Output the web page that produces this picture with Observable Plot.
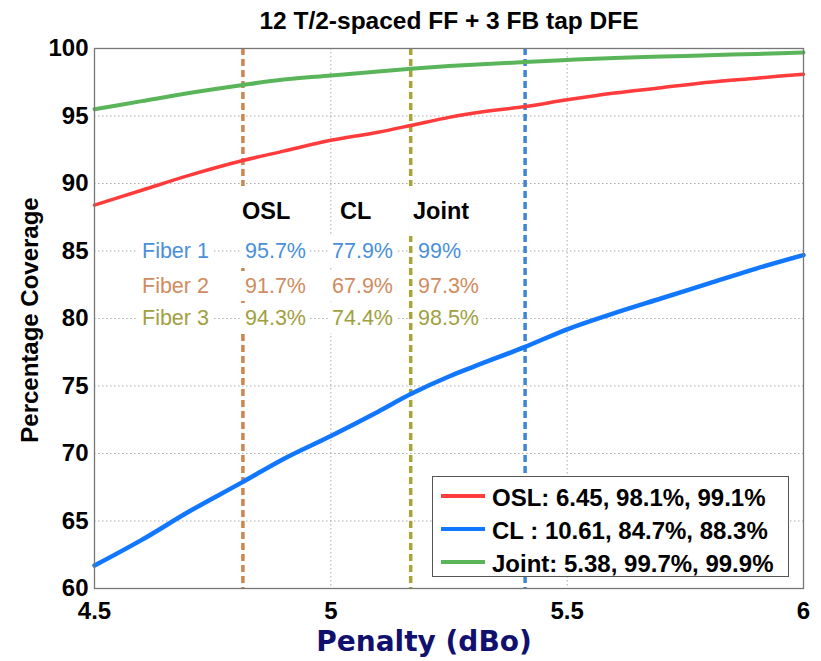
<!DOCTYPE html>
<html><head><meta charset="utf-8">
<script src="https://cdn.jsdelivr.net/npm/d3@7"></script>
<script src="https://cdn.jsdelivr.net/npm/@observablehq/plot@0.6"></script>
<style>
body{margin:0;background:#fff;}
#wrap{position:relative;width:821px;height:661px;font-family:"Liberation Sans",Arial,sans-serif;overflow:hidden;}
#wrap svg{position:absolute;left:0;top:0;}
.abs{position:absolute;white-space:nowrap;}
#title{left:449px;top:9px;transform:translateX(-50%);font-size:24.5px;font-weight:bold;line-height:1;color:#000;}
#ylab{left:30px;top:320px;transform:translate(-50%,-50%) rotate(-90deg);font-size:24px;font-weight:bold;line-height:1;color:#000;}
#xlab{left:424px;top:628px;transform:translateX(-50%);font-family:"DejaVu Sans",sans-serif;font-size:28px;font-weight:bold;line-height:1;color:#10106e;}
.cell{position:absolute;white-space:nowrap;background:#fff;font-size:21.5px;line-height:30px;height:30px;padding:0 4px;}
.head{position:absolute;white-space:nowrap;background:#fff;font-size:23.5px;font-weight:bold;line-height:50px;height:50px;padding:0 4px;color:#000;}
#legend{position:absolute;left:432px;top:476px;width:355px;height:99px;border:1.5px solid #555;background:#fff;}
.lrow{position:absolute;left:59px;font-size:24px;font-weight:bold;line-height:33px;height:33px;white-space:nowrap;color:#000;}
.lsw{position:absolute;left:8px;width:44px;height:4px;}
</style>
</head><body>
<div id="wrap"></div>
<script>
// ---- data ----
const penalty = [4.5, 4.6, 4.7, 4.814, 4.9, 5.0, 5.1, 5.169, 5.25, 5.3, 5.411, 5.5, 5.6, 5.7, 5.8, 5.9, 6.0];
const oslCoverage   = [88.4, 89.5, 90.6, 91.7, 92.4, 93.2, 93.8, 94.3, 94.9, 95.2, 95.7, 96.2, 96.7, 97.1, 97.5, 97.8, 98.1];
const clCoverage    = [61.7, 63.6, 65.7, 67.9, 69.6, 71.3, 73.1, 74.4, 75.7, 76.4, 77.9, 79.2, 80.4, 81.5, 82.6, 83.7, 84.7];
const jointCoverage = [95.5, 96.1, 96.7, 97.3, 97.7, 98.0, 98.3, 98.5, 98.7, 98.8, 99.0, 99.15, 99.3, 99.4, 99.5, 99.6, 99.7];
const fiberPenalty = [5.411, 4.814, 5.169]; // Fiber 1, 2, 3 operating points
const xTicks = [4.5, 5, 5.5, 6];
const yTicks = [60, 65, 70, 75, 80, 85, 90, 95, 100];
const seriesNames = ["OSL", "CL", "Joint"];
const fiberNames = ["Fiber 1", "Fiber 2", "Fiber 3"];
const tableValues = [[95.7, 77.9, 99], [91.7, 67.9, 97.3], [94.3, 74.4, 98.5]];
const legendLabels = ["OSL: 6.45, 98.1%, 99.1%", "CL : 10.61, 84.7%, 88.3%", "Joint: 5.38, 99.7%, 99.9%"];
const titleText = "12 T/2-spaced FF + 3 FB tap DFE";

// ---- styles ----
const seriesColors = ["#ff3b3b", "#1177ff", "#5ab55a"];
const seriesWidths = [3.5, 4.5, 4];
const fiberColors = ["#3d85d6", "#d2844e", "#a9a43a"];
const fiberTextColors = ["#4a90d9", "#d08c60", "#a0a040"];

const seriesValues = [oslCoverage, clCoverage, jointCoverage];
const lineMarks = seriesValues.map((vals, i) =>
  Plot.line(penalty.map((p, j) => ({x: p, y: vals[j]})), {
    x: "x", y: "y", stroke: seriesColors[i], strokeWidth: seriesWidths[i], curve: "monotone-x"
  })
);
const ruleMarks = fiberPenalty.map((p, i) =>
  Plot.ruleX([p], {stroke: fiberColors[i], strokeWidth: 3.5, strokeDasharray: "7,4"})
);

const chart = Plot.plot({
  width: 821, height: 661,
  marginLeft: 94, marginRight: 18, marginTop: 48, marginBottom: 73,
  x: {domain: [4.5, 6]},
  y: {domain: [60, 100]},
  style: {fontFamily: "'Liberation Sans', Arial, sans-serif", fontSize: "24px", fontWeight: "bold", color: "#000", background: "transparent"},
  marks: [
    Plot.gridX(xTicks.slice(1, -1), {stroke: "#aaa", strokeOpacity: 1, strokeDasharray: "1.5,2.5"}),
    Plot.gridY(yTicks.slice(1, -1), {stroke: "#aaa", strokeOpacity: 1, strokeDasharray: "1.5,2.5"}),
    ...ruleMarks,
    ...lineMarks,
    Plot.frame({stroke: "#777", strokeWidth: 1.3}),
    Plot.axisX(xTicks, {tickSize: 0, tickPadding: 13, label: null, tickFormat: d => String(d)}),
    Plot.axisY(yTicks, {tickSize: 0, tickPadding: 6, label: null, tickFormat: d => String(d)})
  ]
});

const wrap = document.getElementById("wrap");
wrap.appendChild(chart);

function addDiv(parent, cls, id, text, css) {
  const d = document.createElement("div");
  if (cls) d.className = cls;
  if (id) d.id = id;
  d.textContent = text;
  if (css) Object.assign(d.style, css);
  parent.appendChild(d);
  return d;
}
addDiv(wrap, "abs", "title", titleText);
addDiv(wrap, "abs", "ylab", "Percentage Coverage");
addDiv(wrap, "abs", "xlab", "Penalty (dBo)");

// table overlay
const headLeft = [238, 336, 409];
const colLeft = [138, 241, 328, 414];
const rowTop = [236, 271, 303];
seriesNames.forEach((n, i) => addDiv(wrap, "head", null, n, {left: headLeft[i] + "px", top: "186px"}));
fiberNames.forEach((f, r) => {
  addDiv(wrap, "cell", null, f, {left: colLeft[0] + "px", top: rowTop[r] + "px", color: fiberTextColors[r]});
  tableValues[r].forEach((v, c) =>
    addDiv(wrap, "cell", null, v + "%", {left: colLeft[c + 1] + "px", top: rowTop[r] + "px", color: fiberTextColors[r]}));
});

// legend
const legend = addDiv(wrap, null, "legend", "");
legendLabels.forEach((l, i) => {
  const top = 4 + i * 33;
  addDiv(legend, "lrow", null, l, {top: top + "px"});
  addDiv(legend, "lsw", null, "", {top: (top + 13) + "px", background: seriesColors[i]});
});
</script>
</body></html>
